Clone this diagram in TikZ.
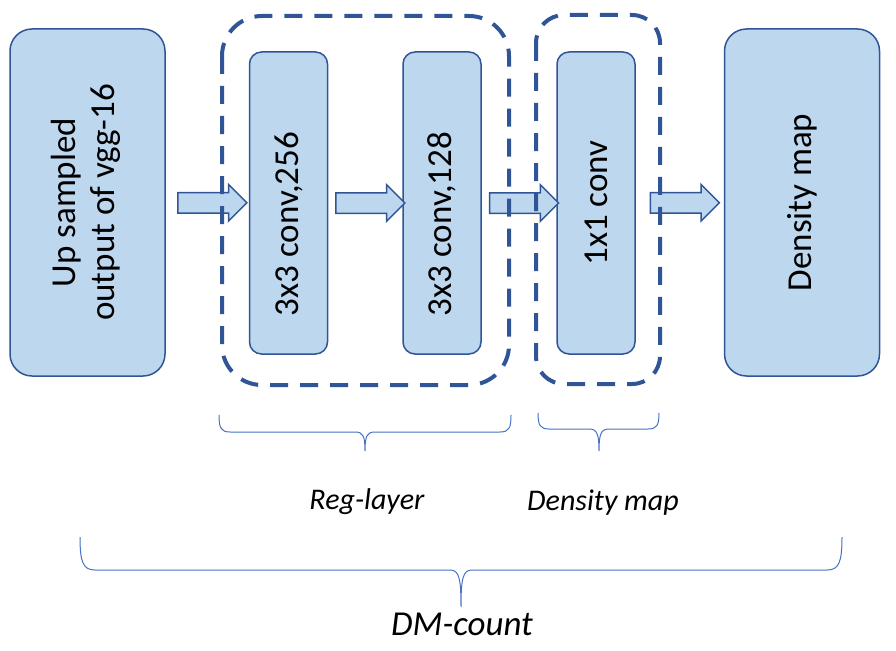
\documentclass[tikz,border=0pt]{standalone}
\usepackage{fontspec}
\setmainfont{Carlito}
\usetikzlibrary{shapes.arrows,calc}
\definecolor{boxfill}{HTML}{BDD7EE}
\definecolor{boxline}{HTML}{2F5597}
\definecolor{braceline}{HTML}{4472C4}

\begin{document}
\begin{tikzpicture}[x=1pt,y=1pt]
    \tikzset{
      layerbox/.style={draw=boxline, fill=boxfill, line width=1.5pt, rounded corners=12pt, align=center, font=\fontsize{35}{39}\selectfont},
      bigbox/.style={layerbox, rounded corners=22pt, minimum width=155pt, minimum height=347pt},
      convbox/.style={layerbox, minimum width=78pt, minimum height=302pt},
      groupbox/.style={draw=boxline, line width=4pt, dash pattern=on 18pt off 12pt},
      blockarrow/.style={single arrow, draw=boxline, fill=boxfill, line width=1.5pt, inner xsep=0pt, inner ysep=9.5pt, minimum height=69pt, single arrow head extend=8pt},
      bracetext/.style={font=\fontsize{30}{36}\selectfont\itshape}
    }
    \useasboundingbox (0,0) rectangle (896,-650);
    % layers
    \node [bigbox] (upsampled) at (87.5,-202.5) {\rotatebox{90}{\begin{tabular}{c}Up sampled\\output of vgg-16\end{tabular}}};
    \node [convbox] (conva) at (288.5,-203) {\rotatebox{90}{3x3 conv,256\hspace*{42pt}}};
    \node [convbox] (convb) at (442,-203) {\rotatebox{90}{3x3 conv,128\hspace*{42pt}}};
    \node [convbox] (convc) at (596,-203) {\rotatebox{90}{1x1 conv}};
    \node [bigbox] (densmap) at (802,-202.5) {\rotatebox{90}{Density map}};
    % block arrows
    \node [blockarrow] (ar1) at ($(upsampled.east)!0.5!(conva.west)$) {};
    \node [blockarrow] (ar2) at ($(conva.east)!0.5!(convb.west)$) {};
    \node [blockarrow] (ar3) at ($(convb.east)!0.5!(convc.west)$) {};
    \node [blockarrow] (ar4) at ($(convc.east)!0.5!(densmap.west)$) {};
    % dashed groups
    \draw [groupbox, rounded corners=40pt] (222,-16) rectangle (509,-385);
    \draw [groupbox, rounded corners=28pt] (536,-15) rectangle (660,-384);
    % braces
    \draw [braceline, line width=1pt] (219,-415) .. controls (219,-428) and (221,-432) .. (230,-432) -- (355,-432) .. controls (363,-432) and (365,-436) .. (365,-451) .. controls (365,-436) and (367,-432) .. (375,-432) -- (500,-432) .. controls (509,-432) and (511,-428) .. (511,-415);
    \draw [braceline, line width=1pt] (538,-413) .. controls (538,-425) and (540,-429) .. (549,-429) -- (589,-429) .. controls (597,-429) and (599,-434) .. (599,-451) .. controls (599,-434) and (601,-429) .. (609,-429) -- (648,-429) .. controls (657,-429) and (659,-425) .. (659,-413);
    \draw [braceline, line width=1pt] (80,-537) .. controls (80,-562) and (83,-570) .. (95,-570) -- (450,-570) .. controls (459,-570) and (461,-578) .. (461,-607) .. controls (461,-578) and (463,-570) .. (472,-570) -- (827,-570) .. controls (839,-570) and (842,-562) .. (842,-537);
    % labels
    \node [bracetext] (reglabel) at (367,-502) {Reg-layer};
    \node [bracetext] (dmlabel) at (603,-503) {Density map};
    \node [bracetext, font=\fontsize{35}{40}\selectfont\itshape] (countlabel) at (462,-624) {DM-count};
\end{tikzpicture}
\end{document}
